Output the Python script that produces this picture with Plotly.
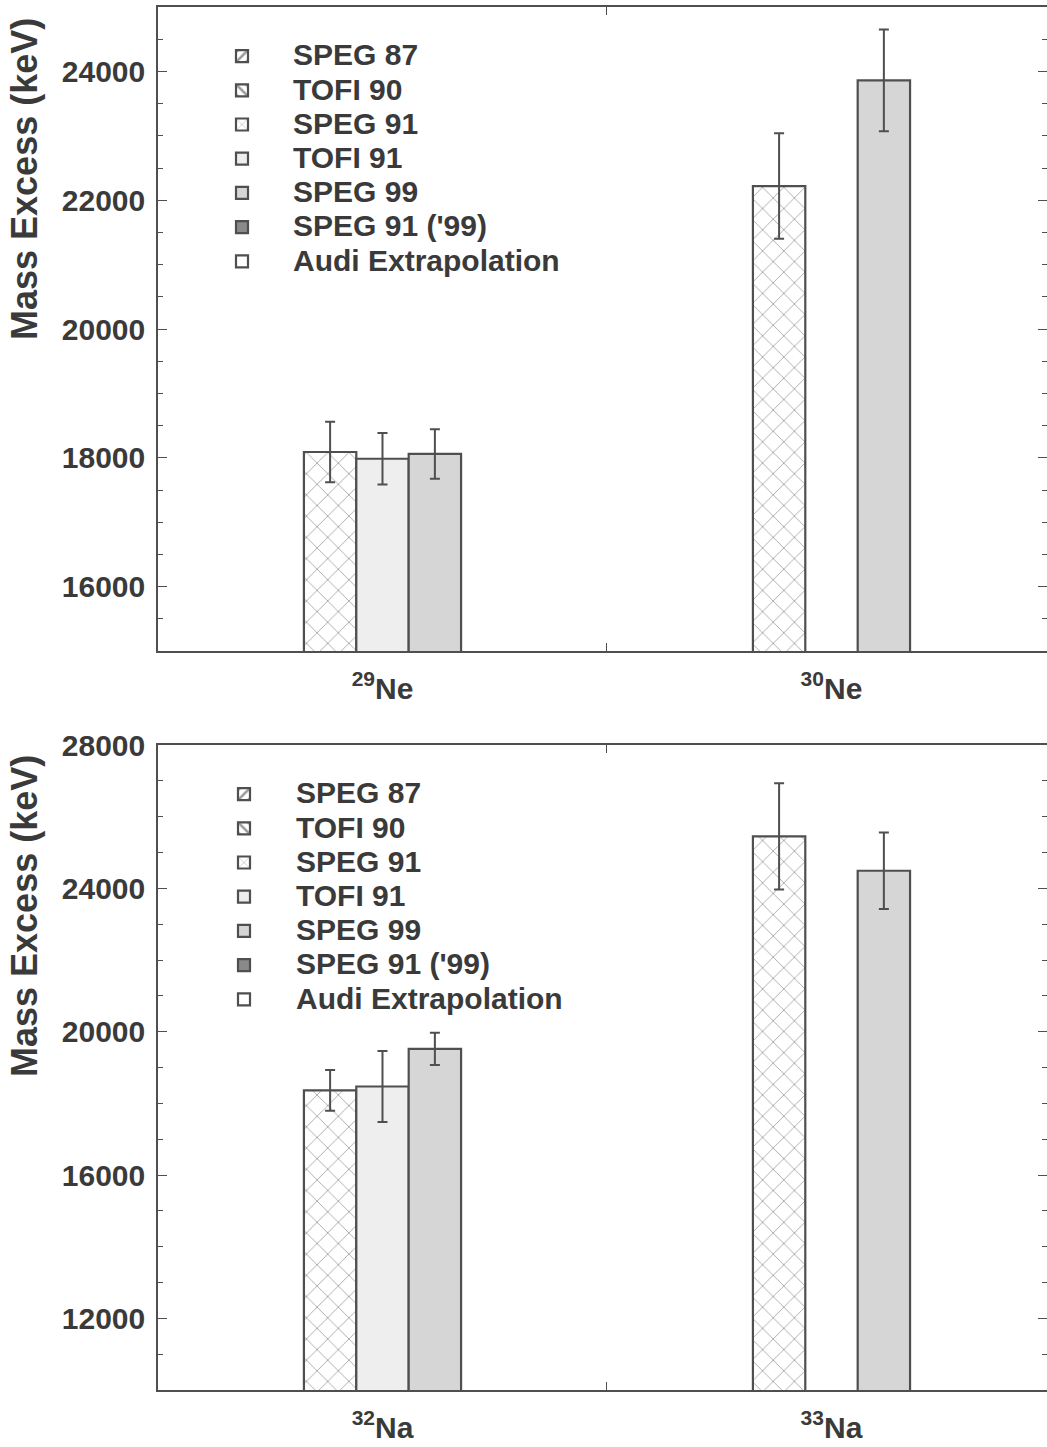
import plotly.graph_objects as go

# ---------------- data ----------------
series_names = ["SPEG 87", "TOFI 90", "SPEG 91", "TOFI 91", "SPEG 99", "SPEG 91 ('99)", "Audi Extrapolation"]

ne_categories = ["<sup>29</sup>Ne", "<sup>30</sup>Ne"]
ne_values = {
    "SPEG 87": [None, None],
    "TOFI 90": [None, None],
    "SPEG 91": [18090, 22220],
    "TOFI 91": [17985, None],
    "SPEG 99": [18060, 23860],
    "SPEG 91 ('99)": [None, None],
    "Audi Extrapolation": [None, None],
}
ne_errors = {
    "SPEG 91": [470, 820],
    "TOFI 91": [400, None],
    "SPEG 99": [385, 790],
}

na_categories = ["<sup>32</sup>Na", "<sup>33</sup>Na"]
na_values = {
    "SPEG 87": [None, None],
    "TOFI 90": [None, None],
    "SPEG 91": [18360, 25450],
    "TOFI 91": [18470, None],
    "SPEG 99": [19520, 24490],
    "SPEG 91 ('99)": [None, None],
    "Audi Extrapolation": [None, None],
}
na_errors = {
    "SPEG 91": [570, 1480],
    "TOFI 91": [990, None],
    "SPEG 99": [450, 1070],
}

ne_ytick_vals = [16000, 18000, 20000, 22000, 24000]
na_ytick_vals = [12000, 16000, 20000, 24000, 28000]

# ---------------- styles ----------------
INK = "#3a3a3a"
LINE = "#4f4f4f"
FONT = "Liberation Sans, Arial, sans-serif"

styles = {
    "SPEG 87": dict(color="white", pattern=dict(shape="/", fgcolor=INK, size=9, solidity=0.35)),
    "TOFI 90": dict(color="white", pattern=dict(shape="\\", fgcolor=INK, size=9, solidity=0.35)),
    "SPEG 91": dict(color="white", pattern=dict(shape="x", fgcolor="#555555", size=15, solidity=0.12)),
    "TOFI 91": dict(color="#eeeeee"),
    "SPEG 99": dict(color="#d6d6d6"),
    "SPEG 91 ('99)": dict(color="#8a8a8a"),
    "Audi Extrapolation": dict(color="white"),
}
offset_groups = {
    "SPEG 87": "a", "TOFI 90": "a", "SPEG 91": "a",
    "TOFI 91": "b",
    "SPEG 99": "c", "SPEG 91 ('99)": "c", "Audi Extrapolation": "c",
}

fig = go.Figure()


def add_panel(categories, values, errors, xaxis, yaxis, legend):
    for name in series_names:
        st = styles[name]
        marker = dict(color=st["color"], line=dict(color=LINE, width=2.2))
        if "pattern" in st:
            marker["pattern"] = st["pattern"]
        err = errors.get(name)
        fig.add_trace(go.Bar(
            x=categories,
            y=values[name],
            name=f'<span style="font-size:30px">{name}</span>',
            marker=marker,
            offsetgroup=offset_groups[name],
            error_y=dict(type="data", array=err, visible=err is not None,
                         color=LINE, thickness=2, width=5),
            xaxis=xaxis, yaxis=yaxis, legend=legend,
            showlegend=True,
        ))


add_panel(ne_categories, ne_values, ne_errors, "x", "y", "legend")
add_panel(na_categories, na_values, na_errors, "x2", "y2", "legend2")

W, H = 1047, 1447
ML, MR, MT, MB = 158, 0, 7, 57
ph = H - MT - MB
top_dom = [(1390 - 651) / ph, 1.0]
bot_dom = [0.0, (1390 - 745) / ph]

xcommon = dict(
    type="category", range=[-0.5, 1.48], showline=True, linecolor=LINE, linewidth=1.5,
    mirror="ticks", ticks="inside", tickson="boundaries", ticklen=8, tickcolor=LINE,
    tickfont=dict(family=FONT, size=30, color=INK, weight="bold"), showgrid=False,
    zeroline=False, fixedrange=True, automargin=False, ticklabelstandoff=10,
)
ycommon = dict(
    showline=True, linecolor=LINE, linewidth=1.5, mirror="ticks", ticks="inside",
    ticklen=9, tickcolor=LINE, tickformat="d", showgrid=False, zeroline=False,
    tickfont=dict(family=FONT, size=30, color=INK, weight="bold"), automargin=False,
    ticklabelstandoff=5,
)

legend_common = dict(
    font=dict(family=FONT, size=24, color=INK, weight="bold"),
    bgcolor="rgba(0,0,0,0)", borderwidth=0, xanchor="left", yanchor="top",
    tracegroupgap=0, traceorder="normal",
)

fig.update_layout(
    width=W, height=H,
    margin=dict(l=ML, r=MR, t=MT, b=MB, autoexpand=False),
    paper_bgcolor="white", plot_bgcolor="white",
    barmode="group", bargap=0.65, bargroupgap=0,
    xaxis=dict(domain=[0, 1], anchor="y", **xcommon),
    yaxis=dict(domain=top_dom, anchor="x", range=[15000, 25000],
               tickvals=ne_ytick_vals,
               minor=dict(dtick=500, tick0=15000, ticks="inside", ticklen=5, tickcolor=LINE),
               **ycommon),
    xaxis2=dict(domain=[0, 1], anchor="y2", **xcommon),
    yaxis2=dict(domain=bot_dom, anchor="x2", range=[10000, 28000],
                tickvals=na_ytick_vals,
                minor=dict(dtick=1000, tick0=10000, ticks="inside", ticklen=5, tickcolor=LINE),
                **ycommon),
    legend=dict(x=(191 - ML) / (W - ML), y=(1390 - 34) / ph, itemwidth=92, **legend_common),
    legend2=dict(x=(192 - ML) / (W - ML), y=(1390 - 772) / ph, itemwidth=94, **legend_common),
    showlegend=True,
)

title_font = dict(family=FONT, size=36, color=INK, weight="bold")
for yc in [(1390 - 179) / ph, (1390 - 916) / ph]:
    fig.add_annotation(
        text="Mass Excess (keV)", textangle=-90, xref="paper", yref="paper",
        x=(24 - ML) / (W - ML), y=yc, xanchor="center", yanchor="middle",
        showarrow=False, font=title_font,
    )

fig.write_html("out.html")
